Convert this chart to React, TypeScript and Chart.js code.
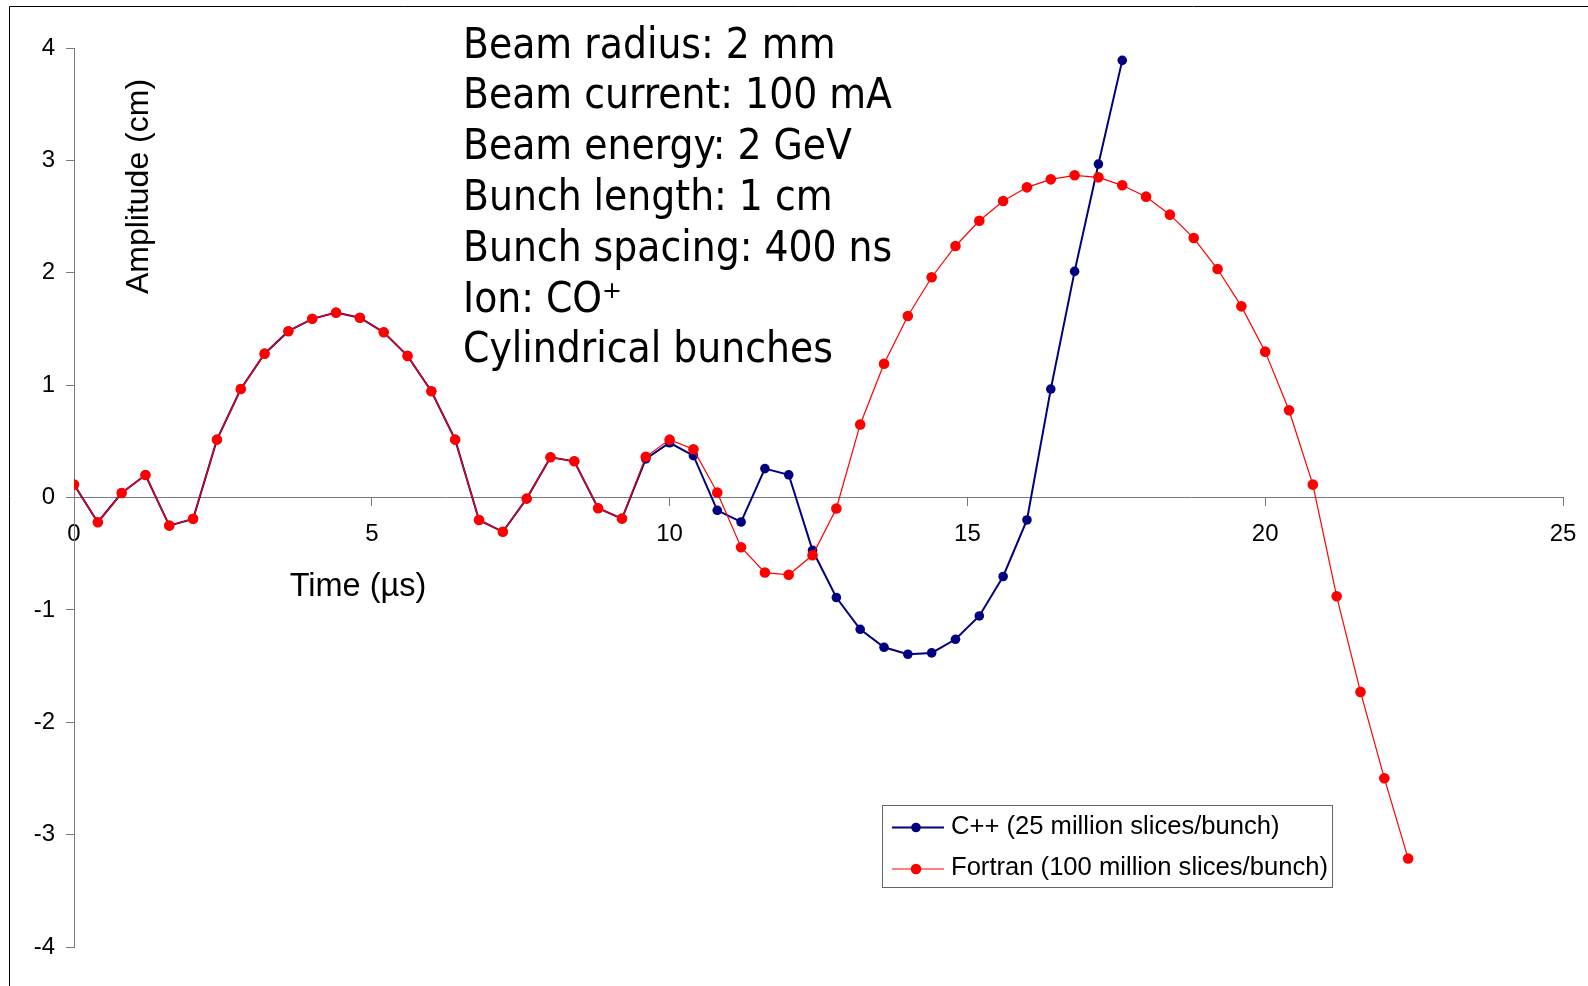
import React, { useEffect, useRef } from 'react';
import { Chart, registerables } from 'chart.js';

Chart.register(...registerables);

// ---- data (time in µs, amplitude in cm) ----
const timeUs = [
  0, 0.4, 0.8, 1.2, 1.6, 2, 2.4, 2.8, 3.2, 3.6,
  4, 4.4, 4.8, 5.2, 5.6, 6, 6.4, 6.8, 7.2, 7.6,
  8, 8.4, 8.8, 9.2, 9.6, 10, 10.4, 10.8, 11.2, 11.6,
  12, 12.4, 12.8, 13.2, 13.6, 14, 14.4, 14.8, 15.2, 15.6,
  16, 16.4, 16.8, 17.2, 17.6, 18, 18.4, 18.8, 19.2, 19.6,
  20, 20.4, 20.8, 21.2, 21.6, 22, 22.4,
];

const cppAmplitude = [
  0.115, -0.22, 0.04, 0.2, -0.25, -0.19, 0.515, 0.965, 1.28, 1.48,
  1.59, 1.645, 1.6, 1.47, 1.26, 0.945, 0.515, -0.2, -0.305, -0.01,
  0.358, 0.322, -0.096, -0.188, 0.343, 0.487, 0.372, -0.114, -0.218, 0.257,
  0.202, -0.47, -0.89, -1.173, -1.333, -1.395, -1.383, -1.262, -1.054, -0.703,
  -0.2, 0.965, 2.012, 2.967, 3.89,
];

const fortranAmplitude = [
  0.115, -0.22, 0.04, 0.2, -0.25, -0.19, 0.515, 0.965, 1.28, 1.48,
  1.59, 1.645, 1.6, 1.47, 1.26, 0.945, 0.515, -0.2, -0.305, -0.01,
  0.358, 0.322, -0.096, -0.188, 0.362, 0.515, 0.429, 0.045, -0.443, -0.668,
  -0.688, -0.514, -0.098, 0.65, 1.19, 1.615, 1.96, 2.238, 2.463, 2.638,
  2.76, 2.831, 2.867, 2.849, 2.778, 2.677, 2.517, 2.309, 2.033, 1.701,
  1.298, 0.776, 0.115, -0.879, -1.73, -2.498, -3.213,
];

const seriesLabels = ['C++ (25 million slices/bunch)', 'Fortran (100 million slices/bunch)'];
const seriesColors = ['#000080', '#ff0000'];

const xRange = [0, 25];
const xStep = 5;
const yRange = [-4, 4];
const yStep = 1;

const xTitle = 'Time (µs)';
const yTitle = 'Amplitude (cm)';

const infoLines = [
  'Beam radius: 2 mm',
  'Beam current: 100 mA',
  'Beam energy: 2 GeV',
  'Bunch length: 1 cm',
  'Bunch spacing: 400 ns',
  'Ion: CO⁺',
  'Cylindrical bunches',
];

const ARIAL = "'Liberation Sans', Arial, sans-serif";
const INFO_FONT = "'DejaVu Sans Condensed', 'DejaVu Sans', sans-serif";
const AXIS_GRAY = '#7a7a7a';

const overlayPlugin = {
  id: 'overlay',
  afterDraw(chart: any) {
    const ctx: CanvasRenderingContext2D = chart.ctx;
    ctx.save();

    // outer frame (left + top edges)
    ctx.strokeStyle = '#000';
    ctx.lineWidth = 1;
    ctx.beginPath();
    ctx.moveTo(9.5, 986);
    ctx.lineTo(9.5, 6.5);
    ctx.lineTo(1588, 6.5);
    ctx.stroke();

    // info block
    ctx.fillStyle = '#000';
    ctx.font = `40px ${INFO_FONT}`;
    const w = ctx.measureText('Beam current: 100 mA').width;
    const size = (40 * 429) / w;
    ctx.font = `${size.toFixed(2)}px ${INFO_FONT}`;
    ctx.textAlign = 'left';
    ctx.textBaseline = 'alphabetic';
    infoLines.forEach((line, k) => {
      ctx.fillText(line, 463, 57.5 + k * 50.8);
    });

    // axis titles
    ctx.font = `32.5px ${ARIAL}`;
    ctx.textAlign = 'center';
    ctx.fillText(xTitle, 358, 596);
    ctx.save();
    ctx.translate(148, 186.5);
    ctx.rotate(-Math.PI / 2);
    ctx.font = `32px ${ARIAL}`;
    ctx.fillText(yTitle, 0, 0);
    ctx.restore();

    // legend
    const bx = 882.5, by = 805.5, bw = 450, bh = 82;
    ctx.fillStyle = '#fff';
    ctx.fillRect(bx, by, bw, bh);
    ctx.strokeStyle = '#666';
    ctx.lineWidth = 1;
    ctx.strokeRect(bx, by, bw, bh);
    const rows = [827.5, 869];
    chart.data.datasets.forEach((ds: any, i: number) => {
      const y = rows[i];
      ctx.strokeStyle = ds.borderColor;
      ctx.lineWidth = ds.borderWidth;
      ctx.beginPath();
      ctx.moveTo(892, y);
      ctx.lineTo(944, y);
      ctx.stroke();
      ctx.fillStyle = ds.pointBackgroundColor;
      ctx.beginPath();
      ctx.arc(916, y, ds.pointRadius, 0, Math.PI * 2);
      ctx.fill();
      ctx.fillStyle = '#000';
      ctx.font = `25.6px ${ARIAL}`;
      ctx.textAlign = 'left';
      ctx.textBaseline = 'middle';
      ctx.fillText(ds.label, 951, y - 1);
    });

    ctx.restore();
  },
};

export default function App() {
  const canvasRef = useRef<HTMLCanvasElement | null>(null);

  useEffect(() => {
    const canvas = canvasRef.current;
    if (!canvas) return;
    const cppData = cppAmplitude.map((v, i) => ({ x: timeUs[i], y: v }));
    const fortranData = fortranAmplitude.map((v, i) => ({ x: timeUs[i], y: v }));

    const tickFont = { family: ARIAL, size: 24 };

    const chart = new Chart(canvas, {
      type: 'scatter',
      data: {
        datasets: [
          {
            label: seriesLabels[0],
            data: cppData,
            showLine: true,
            borderColor: seriesColors[0],
            backgroundColor: seriesColors[0],
            pointBackgroundColor: seriesColors[0],
            borderWidth: 2,
            pointRadius: 4.8,
            pointBorderWidth: 0,
            tension: 0,
            order: 1,
          },
          {
            label: seriesLabels[1],
            data: fortranData,
            showLine: true,
            borderColor: seriesColors[1],
            backgroundColor: seriesColors[1],
            pointBackgroundColor: seriesColors[1],
            borderWidth: 1.2,
            pointRadius: 5.3,
            pointBorderWidth: 0,
            tension: 0,
            order: 0,
          },
        ],
      } as any,
      options: {
        animation: false,
        responsive: false,
        maintainAspectRatio: false,
        layout: { padding: { top: 48, right: 25, bottom: 39, left: 0 } },
        plugins: {
          legend: { display: false },
          tooltip: { enabled: false },
        },
        scales: {
          x: {
            type: 'linear',
            min: xRange[0],
            max: xRange[1],
            position: { y: 0 },
            ticks: { stepSize: xStep, font: tickFont, color: '#000', padding: 14, maxRotation: 0 },
            grid: { display: true, drawOnChartArea: false, drawTicks: true, tickLength: 8, color: AXIS_GRAY },
            border: { display: true, color: AXIS_GRAY, width: 1 },
            afterFit: (scale: any) => {
              scale.paddingLeft = 0;
              scale.paddingRight = 0;
            },
          },
          y: {
            type: 'linear',
            min: yRange[0],
            max: yRange[1],
            position: 'left',
            ticks: { stepSize: yStep, font: tickFont, color: '#000', padding: 11 },
            grid: { display: true, drawOnChartArea: false, drawTicks: true, tickLength: 8, color: AXIS_GRAY },
            border: { display: true, color: AXIS_GRAY, width: 1 },
            afterFit: (scale: any) => {
              scale.width = 74;
            },
          },
        },
      } as any,
      plugins: [overlayPlugin],
    });

    return () => {
      chart.destroy();
    };
  }, []);

  return (
    <div style={{ position: 'absolute', left: 0, top: 0, width: 1588, height: 986, background: '#fff' }}>
      <canvas ref={canvasRef} width={1588} height={986} style={{ width: 1588, height: 986, display: 'block' }} />
    </div>
  );
}
